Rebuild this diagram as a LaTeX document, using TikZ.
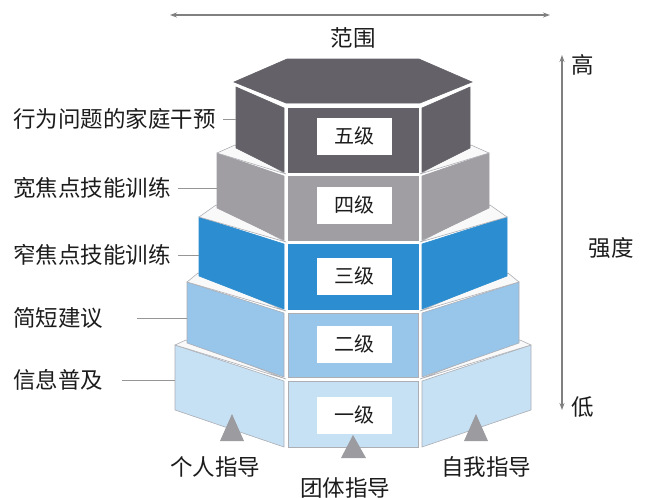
\documentclass[tikz,border=0pt]{standalone}
\usepackage{fontspec}
\newfontfamily\cjk{Noto Sans CJK SC}
\usetikzlibrary{arrows.meta}
\definecolor{cfive}{RGB}{100,98,104}
\definecolor{cfour}{RGB}{160,158,163}
\definecolor{cthree}{RGB}{44,142,208}
\definecolor{ctwo}{RGB}{152,197,234}
\definecolor{cone}{RGB}{198,224,244}
\definecolor{edgegray}{RGB}{172,174,180}
\definecolor{ledgefill}{RGB}{249,249,249}
\definecolor{axisgray}{RGB}{128,128,128}
\definecolor{leadgray}{RGB}{150,150,150}
\definecolor{trigray}{RGB}{155,155,160}
\definecolor{txt}{RGB}{28,28,28}
\tikzset{
  face/.style={line width=0.6pt},
  ledge/.style={fill=ledgefill, draw=edgegray, line width=0.6pt, line join=round},
  lab/.style={font=\cjk\fontsize{22.5}{27}\selectfont, text=txt, inner sep=0pt},
  boxlab/.style={font=\cjk\fontsize{20}{24}\selectfont, text=txt, fill=white, minimum width=75pt, minimum height=37pt, inner sep=0pt},
  leader/.style={draw=leadgray, line width=1pt},
  axis/.style={draw=axisgray, line width=1.5pt, {Stealth[length=7pt,width=5pt]}-{Stealth[length=7pt,width=5pt]}},
  marker/.style={fill=trigray}
}
% #1 w, #2 Btop, #3 Bbottom, #4 top drop, #5 bottom drop, #6 colour, #7 edge colour
\newcommand{\pyrfaces}[7]{%
  \filldraw[face, fill=#6, draw=#7] (288,#2+2) rectangle (418,#3-2);
  \filldraw[face, fill=#6, draw=#7] (284,#2+2) -- (286-#1,#2-#4) -- (286-#1,#3-#5) -- (284,#3-2) -- cycle;
  \filldraw[face, fill=#6, draw=#7] (422,#2+2) -- (420+#1,#2-#4) -- (420+#1,#3-#5) -- (422,#3-2) -- cycle;
}
% #1 w_i, #2 w_{i+1}, #3 Btop_i, #4 top drop_i, #5 bottom drop_{i+1}
\newcommand{\pyrledge}[5]{%
  \filldraw[ledge] (286-#1,#3-#4) -- (285-#2,#3-#5-3) -- (286,#3) -- cycle;
  \filldraw[ledge] (420+#1,#3-#4) -- (421+#2,#3-#5-3) -- (420,#3) -- cycle;
}
\begin{document}
\begin{tikzpicture}[x=1pt,y=-1pt]
\useasboundingbox (0,0) rectangle (646,498);
% level 1
\pyrfaces{111}{379}{449}{34}{39}{cone}{edgegray}
\pyrledge{111}{99}{379}{34}{36}
% level 2
\pyrfaces{99}{311}{379}{29}{36}{ctwo}{edgegray}
\pyrledge{99}{87}{311}{29}{35}
% level 3
\pyrfaces{87}{242}{311}{25}{35}{cthree}{cthree}
\pyrledge{87}{69}{242}{25}{34}
% level 4
\pyrfaces{69}{174}{242}{21}{34}{cfour}{cfour}
\pyrledge{69}{50}{174}{21}{26}
% level 5
\pyrfaces{50}{106}{174}{19}{26}{cfive}{cfive}
\filldraw[face, fill=cfive, draw=cfive] (286,103) -- (234,82) -- (287,59) -- (419,59) -- (472,82) -- (420,103) -- cycle;
% markers
\fill[marker] (232,414) -- (220,441) -- (244,441) -- cycle;
\fill[marker] (353,435) -- (341,458) -- (366,458) -- cycle;
\fill[marker] (476,414) -- (464,441) -- (488,441) -- cycle;
% level boxes
\node[boxlab] (b5) at (354,136) {五级};
\node[boxlab] (b4) at (354,205) {四级};
\node[boxlab] (b3) at (354,276) {三级};
\node[boxlab] (b2) at (354,344) {二级};
\node[boxlab] (b1) at (354,415) {一级};
% left labels
\node[lab, anchor=west] (t5) at (13,119) {行为问题的家庭干预};
\node[lab, anchor=west] (t4) at (13,188) {宽焦点技能训练};
\node[lab, anchor=west] (t3) at (13,255) {窄焦点技能训练};
\node[lab, anchor=west] (t2) at (13,318) {简短建议};
\node[lab, anchor=west] (t1) at (13,380) {信息普及};
\coordinate (s5) at (223,119); \coordinate (e5) at (236,119);
\coordinate (s4) at (178,188); \coordinate (e4) at (217,188);
\coordinate (s3) at (178,255); \coordinate (e3) at (199,255);
\coordinate (s2) at (137,318); \coordinate (e2) at (187,318);
\coordinate (s1) at (122,380); \coordinate (e1) at (175,380);
\draw[leader] (s5) -- (e5);
\draw[leader] (s4) -- (e4);
\draw[leader] (s3) -- (e3);
\draw[leader] (s2) -- (e2);
\draw[leader] (s1) -- (e1);
% axes
\coordinate (hl) at (170,15); \coordinate (hr) at (550,15);
\draw[axis] (hl) -- (hr);
\node[lab] (range) at (353,38) {范围};
\coordinate (vt) at (562,55); \coordinate (vb) at (562,410);
\draw[axis] (vt) -- (vb);
\node[lab] (high) at (583,65) {高};
\node[lab] (low) at (583,407) {低};
\node[lab] (intensity) at (611,248) {强度};
% bottom labels
\node[lab] (g1) at (215,467) {个人指导};
\node[lab] (g2) at (345,488) {团体指导};
\node[lab] (g3) at (486,467) {自我指导};
\end{tikzpicture}
\end{document}
